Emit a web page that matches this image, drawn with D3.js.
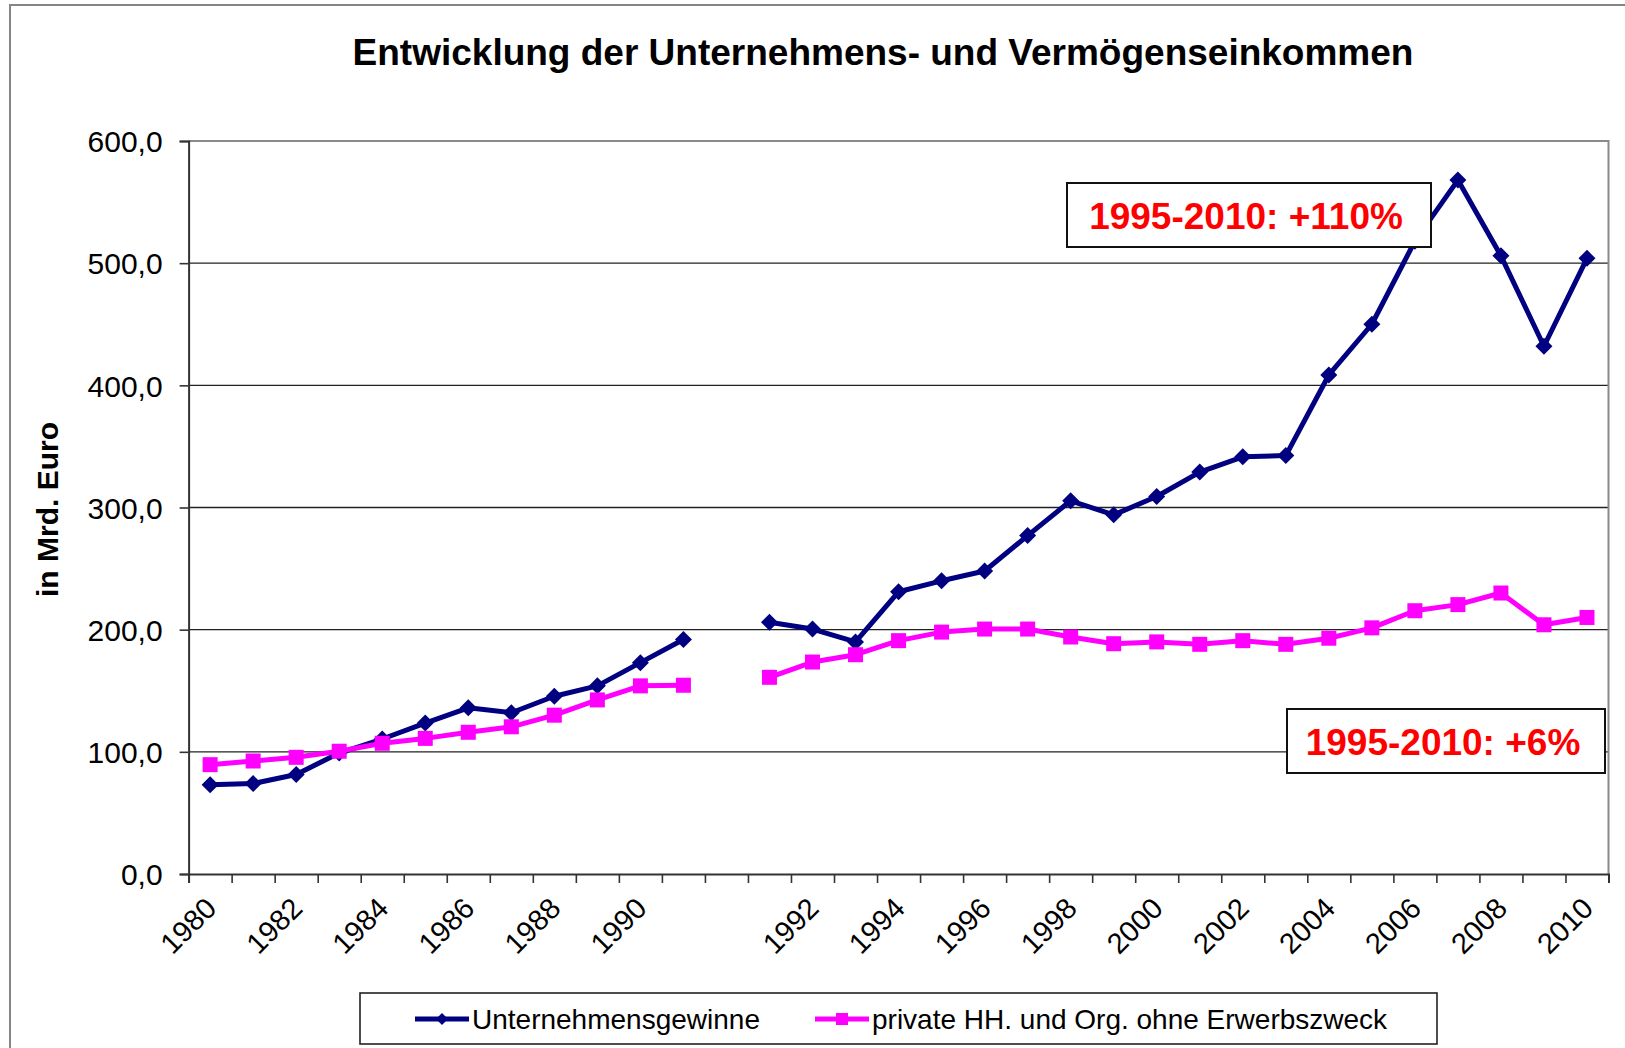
<!DOCTYPE html>
<html>
<head>
<meta charset="utf-8">
<script src="https://cdn.jsdelivr.net/npm/d3@7"></script>
<style>
  html, body { margin: 0; padding: 0; background: #fff; }
  svg { display: block; font-family: "Liberation Sans", Arial, Helvetica, sans-serif; }
</style>
</head>
<body>
<svg id="chart" width="1625" height="1048"></svg>
<script>
// Category axis: West Germany 1980–1991, an empty slot, then unified Germany 1991–2010
const categories = [
  "1980", "1981", "1982", "1983", "1984", "1985", "1986", "1987", "1988", "1989", "1990", "1991",
  "",
  "1991", "1992", "1993", "1994", "1995", "1996", "1997", "1998", "1999", "2000",
  "2001", "2002", "2003", "2004", "2005", "2006", "2007", "2008", "2009", "2010"
];

// Unternehmensgewinne, in Mrd. Euro
const unternehmensgewinne = [
  73, 74, 81.5, 99, 110.5, 123.5, 136, 132, 145.5, 154, 173, 192,
  null,
  206, 200.5, 190, 231, 240, 248, 277, 305.5, 294, 309,
  329, 341.5, 342.5, 408.5, 450, 518, 568, 506, 432, 504
];

// private Haushalte und Organisationen ohne Erwerbszweck, in Mrd. Euro
const privateHH = [
  89.5, 92.5, 95.5, 100.5, 107, 111, 116, 120.5, 130, 142.5, 154, 154.5,
  null,
  161, 173.5, 179.5, 191, 198, 200.5, 200.5, 194, 188.5, 190,
  188, 191, 188, 193, 201.5, 215.5, 220.5, 230, 204, 210
];

const seriesNames = ["Unternehmensgewinne", "private HH. und Org. ohne Erwerbszweck"];
const yTicks = [0, 100, 200, 300, 400, 500, 600];
const changeFrom = "1995";
const changeTo = "2010";

const svg = d3.select("#chart");
const W = 1625, H = 1048;
const plot = { left: 188.6, right: 1608.5, top: 141, bottom: 874 };
const navy = "#000080", magenta = "#FF00FF";

// Outer chart frame
svg.append("rect")
  .attr("x", 10).attr("y", 5).attr("width", W).attr("height", H)
  .attr("fill", "#fff").attr("stroke", "#858585").attr("stroke-width", 2);

// Title
svg.append("text")
  .attr("x", 883).attr("y", 65)
  .attr("text-anchor", "middle")
  .attr("font-size", 37).attr("font-weight", "bold").attr("fill", "#000")
  .text("Entwicklung der Unternehmens- und Vermögenseinkommen");

// Scales
const idx = d3.range(categories.length);
const x = d3.scaleBand().domain(idx).range([plot.left, plot.right]).padding(0);
const xEdges = d3.scaleLinear().domain([0, categories.length]).range([plot.left, plot.right]);
const y = d3.scaleLinear().domain([0, 600]).range([plot.bottom, plot.top]);
const cx = i => x(i) + x.bandwidth() / 2;

// Gridlines
svg.append("g").selectAll("line")
  .data(yTicks.filter(t => t > 0 && t < 600))
  .join("line")
  .attr("x1", plot.left).attr("x2", plot.right)
  .attr("y1", d => y(d)).attr("y2", d => y(d))
  .attr("stroke", "#222").attr("stroke-width", 1.4);

// Plot area border (top and right)
svg.append("path")
  .attr("d", `M${plot.left},${y(600)}H${plot.right}V${plot.bottom}`)
  .attr("fill", "none").attr("stroke", "#8a8a8a").attr("stroke-width", 2);

// Y axis
const fmt = d => d3.format(".1f")(d).replace(".", ",");
const yAxis = svg.append("g")
  .attr("transform", `translate(${plot.left},0)`)
  .call(d3.axisLeft(y).tickValues(yTicks).tickSize(9).tickPadding(17).tickFormat(fmt));
yAxis.select(".domain").attr("stroke", "#333").attr("stroke-width", 2);
yAxis.selectAll(".tick line").attr("stroke", "#333").attr("stroke-width", 1.6);
yAxis.selectAll(".tick text")
  .attr("font-size", 30).attr("fill", "#000")
  .attr("font-family", "\"Liberation Sans\", Arial, sans-serif")
  .attr("dy", "0.36em");

// Y axis title
svg.append("text")
  .attr("transform", `translate(58,509.5) rotate(-90)`)
  .attr("text-anchor", "middle")
  .attr("font-size", 30).attr("font-weight", "bold").attr("fill", "#000")
  .text("in Mrd. Euro");

// X axis: tick marks at category boundaries
const xAxis = svg.append("g")
  .attr("transform", `translate(0,${plot.bottom})`)
  .call(d3.axisBottom(xEdges).tickValues(d3.range(categories.length + 1)).tickSize(9).tickFormat(""));
xAxis.select(".domain").attr("stroke", "#333").attr("stroke-width", 2);
xAxis.selectAll(".tick line").attr("stroke", "#333").attr("stroke-width", 1.6);

// X labels, every second category, rotated
svg.append("g").selectAll("text")
  .data(idx.filter(i => i % 2 === 0 && categories[i] !== ""))
  .join("text")
  .attr("transform", i => `translate(${cx(i) + 8},${plot.bottom + 36}) rotate(-45)`)
  .attr("text-anchor", "end")
  .attr("font-size", 29).attr("fill", "#000")
  .text(i => categories[i]);

// Series
const series = [
  { name: seriesNames[0], values: unternehmensgewinne, color: navy, marker: "diamond" },
  { name: seriesNames[1], values: privateHH, color: magenta, marker: "square" }
];

const line = d3.line()
  .defined(d => d.v !== null)
  .x(d => cx(d.i))
  .y(d => y(d.v));

const diamondPath = r => `M0,${-r}L${r},0L0,${r}L${-r},0Z`;

function drawMarker(sel, type, color, size) {
  if (type === "diamond") {
    sel.append("path").attr("d", diamondPath(size / 2)).attr("fill", color);
  } else {
    sel.append("rect")
      .attr("x", -size / 2).attr("y", -size / 2)
      .attr("width", size).attr("height", size)
      .attr("fill", color);
  }
}

series.forEach(s => {
  const pts = s.values.map((v, i) => ({ i, v }));
  const g = svg.append("g");
  g.append("path")
    .datum(pts)
    .attr("d", line)
    .attr("fill", "none")
    .attr("stroke", s.color)
    .attr("stroke-width", 5)
    .attr("stroke-linejoin", "round");
  g.selectAll("g.m")
    .data(pts.filter(p => p.v !== null))
    .join("g")
    .attr("class", "m")
    .attr("transform", p => `translate(${cx(p.i)},${y(p.v)})`)
    .each(function () {
      drawMarker(d3.select(this), s.marker, s.color, s.marker === "diamond" ? 17 : 15);
    });
});

// Change labels 1995–2010, computed from the series
const iFrom = categories.lastIndexOf(changeFrom);
const iTo = categories.lastIndexOf(changeTo);
const pct = vals => Math.round((vals[iTo] / vals[iFrom] - 1) * 100);
const callouts = [
  { text: `${changeFrom}-${changeTo}: +${pct(unternehmensgewinne)}%`, x: 1067, y: 183, w: 364, h: 64 },
  { text: `${changeFrom}-${changeTo}: +${pct(privateHH)}%`, x: 1287, y: 709, w: 318, h: 64 }
];
const cg = svg.append("g").selectAll("g").data(callouts).join("g");
cg.append("rect")
  .attr("x", d => d.x).attr("y", d => d.y)
  .attr("width", d => d.w).attr("height", d => d.h)
  .attr("fill", "#fff").attr("stroke", "#111").attr("stroke-width", 2);
cg.append("text")
  .attr("x", d => d.x + d.w / 2 - 3).attr("y", d => d.y + 46)
  .attr("text-anchor", "middle")
  .attr("font-size", 37).attr("font-weight", "bold").attr("fill", "#FF0000")
  .text(d => d.text);

// Legend
const legend = svg.append("g");
legend.append("rect")
  .attr("x", 360).attr("y", 993).attr("width", 1077).attr("height", 51)
  .attr("fill", "#fff").attr("stroke", "#222").attr("stroke-width", 1.6);
const legendItems = [
  { s: series[0], x0: 415 },
  { s: series[1], x0: 815 }
];
legendItems.forEach(({ s, x0 }) => {
  const ly = 1019;
  legend.append("line")
    .attr("x1", x0).attr("x2", x0 + 54).attr("y1", ly).attr("y2", ly)
    .attr("stroke", s.color).attr("stroke-width", 5);
  const m = legend.append("g").attr("transform", `translate(${x0 + 27},${ly})`);
  drawMarker(m, s.marker, s.color, s.marker === "diamond" ? 12 : 12);
  legend.append("text")
    .attr("x", x0 + 57).attr("y", ly + 10)
    .attr("font-size", 28).attr("fill", "#000")
    .text(s.name);
});
</script>
</body>
</html>
